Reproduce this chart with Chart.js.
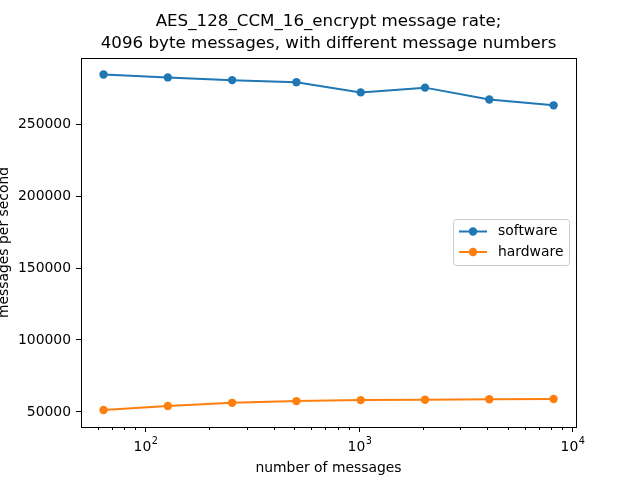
<!DOCTYPE html>
<html lang="en">
  <head>
    <meta charset="UTF-8" />
    <title>AES_128_CCM_16_encrypt message rate</title>
    <script src="https://cdn.jsdelivr.net/npm/chart.js"></script>
    <style>
      body { margin: 0; background: #fff; }
    </style>
  </head>
  <body>
    <canvas id="myChart" width="640" height="480"></canvas>

    <script>
      // data
      const messages = [64, 128, 256, 512, 1024, 2048, 4096, 8192];
      const software = [284500, 282500, 280600, 279200, 272100, 275400, 267200, 263100];
      const hardware = [51300, 54100, 56300, 57500, 58200, 58400, 58800, 59000];
      const seriesNames = ["software", "hardware"];
      const seriesColors = ["#1f77b4", "#ff7f0e"];
      const yTicks = [50000, 100000, 150000, 200000, 250000];
      const titleLines = [
        "AES_128_CCM_16_encrypt message rate;",
        "4096 byte messages, with different message numbers",
      ];
      const xTitle = "number of messages";
      const yTitle = "messages per second";

      const FONT = "'DejaVu Sans', sans-serif";
      Chart.defaults.font.family = FONT;
      Chart.defaults.color = "#000";

      const ctx = document.getElementById("myChart").getContext("2d");

      const toPoints = (vals) => messages.map((m, i) => ({ x: m, y: vals[i] }));

      // matplotlib-ish frame, x ticks, titles and legend
      const mplPlugin = {
        id: "mpl",
        afterDraw(chart) {
          const { ctx, chartArea: a, scales } = chart;
          const xs = scales.x;
          ctx.save();
          ctx.strokeStyle = "#000";
          ctx.fillStyle = "#000";
          ctx.lineWidth = 1;

          // x ticks (major at powers of ten, minor elsewhere)
          xs.ticks.forEach((t) => {
            const e = Math.floor(Math.log10(t.value) + 1e-9);
            const sig = t.value / Math.pow(10, e);
            if (Math.abs(sig - Math.round(sig)) > 1e-6) return;
            const major = Math.round(sig) === 1;
            const px = Math.round(xs.getPixelForValue(t.value)) + 0.5;
            ctx.beginPath();
            ctx.moveTo(px, a.bottom);
            ctx.lineTo(px, a.bottom + (major ? 5 : 3));
            ctx.stroke();
            if (major) {
              ctx.font = `13.9px ${FONT}`;
              ctx.textBaseline = "alphabetic";
              ctx.textAlign = "left";
              const base = "10";
              const sup = String(e);
              const wb = ctx.measureText(base).width;
              ctx.font = `9.7px ${FONT}`;
              const ws = ctx.measureText(sup).width;
              const x0 = px - (wb + ws) / 2;
              ctx.font = `13.9px ${FONT}`;
              ctx.fillText(base, x0, 451);
              ctx.font = `9.7px ${FONT}`;
              ctx.fillText(sup, x0 + wb + 0.5, 444);
            }
          });

          // frame
          ctx.strokeRect(Math.round(a.left) + 0.5, Math.round(a.top) + 0.5,
            Math.round(a.right - a.left), Math.round(a.bottom - a.top));

          // title
          ctx.textAlign = "center";
          ctx.textBaseline = "alphabetic";
          ctx.font = `16.7px ${FONT}`;
          const cx = (a.left + a.right) / 2;
          ctx.fillText(titleLines[0], cx, 26);
          ctx.fillText(titleLines[1], cx, 48);

          // axis titles
          ctx.font = `13.9px ${FONT}`;
          ctx.fillText(xTitle, cx, 472);
          ctx.save();
          ctx.translate(8, (a.top + a.bottom) / 2);
          ctx.rotate(-Math.PI / 2);
          ctx.fillText(yTitle, 0, 0);
          ctx.restore();

          // legend
          const lx = 453.5, ly = 219.5, lw = 116, lh = 46, r = 3;
          ctx.beginPath();
          ctx.roundRect(lx, ly, lw, lh, r);
          ctx.fillStyle = "rgba(255,255,255,0.8)";
          ctx.fill();
          ctx.strokeStyle = "#cccccc";
          ctx.stroke();
          chart.data.datasets.forEach((ds, i) => {
            const y = 231.5 + i * 20.5;
            ctx.strokeStyle = ds.borderColor;
            ctx.lineWidth = 2;
            ctx.beginPath();
            ctx.moveTo(459, y);
            ctx.lineTo(487, y);
            ctx.stroke();
            ctx.fillStyle = ds.backgroundColor;
            ctx.beginPath();
            ctx.arc(473, y, 4.2, 0, Math.PI * 2);
            ctx.fill();
            ctx.fillStyle = "#000";
            ctx.textAlign = "left";
            ctx.textBaseline = "middle";
            ctx.font = `13.9px ${FONT}`;
            ctx.fillText(ds.label, 498, y);
          });
          ctx.restore();
        },
      };

      new Chart(ctx, {
        type: "line",
        data: {
          datasets: [software, hardware].map((vals, i) => ({
            label: seriesNames[i],
            data: toPoints(vals),
            borderColor: seriesColors[i],
            backgroundColor: seriesColors[i],
            borderWidth: 2,
            pointRadius: 4.2,
            pointBorderWidth: 0,
            pointHoverRadius: 4.2,
            tension: 0,
          })),
        },
        options: {
          responsive: false,
          animation: false,
          devicePixelRatio: 1,
          layout: { padding: { left: 0, top: 58, right: 64, bottom: 0 } },
          plugins: {
            legend: { display: false },
            title: { display: false },
            tooltip: { enabled: false },
          },
          scales: {
            x: {
              type: "logarithmic",
              min: 50.2,
              max: 10430,
              grid: { display: false },
              border: { display: false },
              ticks: { display: false, autoSkip: false },
              afterFit: (s) => { s.height = 53; },
            },
            y: {
              min: 39500,
              max: 296000,
              afterBuildTicks: (s) => { s.ticks = yTicks.map((v) => ({ value: v })); },
              grid: { drawOnChartArea: false, tickLength: 5, color: "#000", tickWidth: 1 },
              border: { display: false },
              ticks: {
                padding: 5,
                font: { size: 13.9 },
                color: "#000",
                callback: (v) => String(v),
              },
              afterFit: (s) => { s.width = 81; },
            },
          },
        },
        plugins: [mplPlugin],
      });
    </script>
  </body>
</html>
